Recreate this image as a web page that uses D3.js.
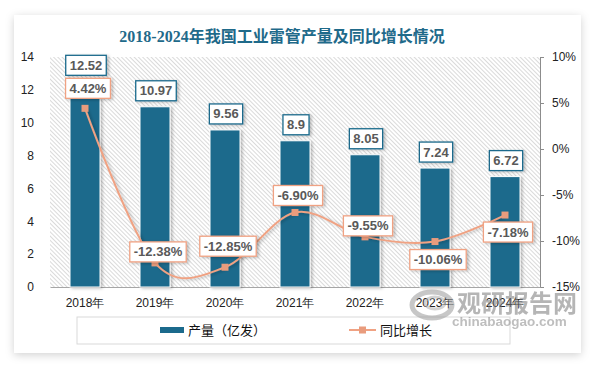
<!DOCTYPE html>
<html><head><meta charset="utf-8">
<script src="https://cdn.jsdelivr.net/npm/d3@7/dist/d3.min.js"></script>
<style>
html,body{margin:0;padding:0;background:#fff;}
svg{display:block;font-family:"Noto Sans CJK SC","Liberation Sans",sans-serif;}
</style></head>
<body>
<svg id="chart" width="594" height="366"></svg>
<script>
// ---- data ----
const years = ["2018年","2019年","2020年","2021年","2022年","2023年","2024年"];
const output = [12.52, 10.97, 9.56, 8.9, 8.05, 7.24, 6.72];
const outputLabels = ["12.52","10.97","9.56","8.9","8.05","7.24","6.72"];
const growth = [4.42, -12.38, -12.85, -6.90, -9.55, -10.06, -7.18];
const growthLabels = ["4.42%","-12.38%","-12.85%","-6.90%","-9.55%","-10.06%","-7.18%"];
const leftTicks = [0, 2, 4, 6, 8, 10, 12, 14];
const rightTicks = [-15, -10, -5, 0, 5, 10];
const seriesNames = ["产量（亿发）", "同比增长"];
const titleText = "2018-2024年我国工业雷管产量及同比增长情况";

// ---- layout / style ----
const barColor = "#1b6a8c", lineColor = "#f0a283", markerColor = "#e99c7d";
const plot = {left: 50, right: 540, top: 57, bottom: 287};
const growthLabelNudge = [-20, -11, -21, -17, -11, 18, 17];

const svg = d3.select("#chart");
const defs = svg.append("defs");
const sh = defs.append("filter").attr("id","cardShadow").attr("x","-10%").attr("y","-10%").attr("width","120%").attr("height","125%");
sh.append("feDropShadow").attr("dx",0).attr("dy",2).attr("stdDeviation",4).attr("flood-color","#000").attr("flood-opacity",0.18);
const bs = defs.append("filter").attr("id","barShadow").attr("x","-30%").attr("y","-10%").attr("width","160%").attr("height","130%");
bs.append("feDropShadow").attr("dx",2).attr("dy",1).attr("stdDeviation",1.5).attr("flood-color","#000").attr("flood-opacity",0.25);
const pat = defs.append("pattern").attr("id","hatch").attr("patternUnits","userSpaceOnUse")
  .attr("width",3).attr("height",3).attr("patternTransform","rotate(-45)");
pat.append("rect").attr("width",3).attr("height",3).attr("fill","#fff");
pat.append("rect").attr("x",0).attr("y",0).attr("width",0.9).attr("height",3).attr("fill","#d6d6d6");

// card
svg.append("rect").attr("x",14).attr("y",15).attr("width",567).attr("height",338)
  .attr("fill","#fff").attr("filter","url(#cardShadow)");

// title
svg.append("text").attr("x",282).attr("y",42).attr("text-anchor","middle")
  .attr("font-size",16).attr("font-weight","bold").attr("fill","#1f6a8a")
  .attr("font-family","'Liberation Serif','Noto Sans CJK SC',serif")
  .text(titleText);

// scales
const x = d3.scaleBand().domain(years).range([plot.left, plot.right])
  .paddingInner(40/70).paddingOuter(20/70);
const yL = d3.scaleLinear().domain([0,14]).range([plot.bottom, plot.top]);
const yR = d3.scaleLinear().domain([-15,10]).range([plot.bottom, plot.top]);

// plot background hatch
svg.append("rect").attr("x",plot.left).attr("y",plot.top)
  .attr("width",plot.right-plot.left).attr("height",plot.bottom-plot.top)
  .attr("fill","url(#hatch)");

// axes
const gL = svg.append("g").attr("transform",`translate(${plot.left},0)`)
  .call(d3.axisLeft(yL).tickValues(leftTicks).tickSize(0).tickPadding(16));
gL.select(".domain").remove();
gL.selectAll("text").attr("font-size",12).attr("fill","#222");

const gR = svg.append("g").attr("transform",`translate(${plot.right},0)`)
  .call(d3.axisRight(yR).tickValues(rightTicks).tickSize(4).tickPadding(8).tickFormat(d=>d+"%"));
gR.select(".domain").attr("stroke","#8c8c8c");
gR.selectAll(".tick line").attr("stroke","#8c8c8c");
gR.selectAll("text").attr("font-size",12).attr("fill","#222");

const gB = svg.append("g").attr("transform",`translate(0,${plot.bottom})`)
  .call(d3.axisBottom(x).tickSize(0).tickPadding(11).tickSizeOuter(0));
gB.select(".domain").attr("stroke","#a6a6a6");
gB.selectAll("text").attr("font-size",12).attr("fill","#222");

// bars
svg.append("g").selectAll("rect").data(output).join("rect")
  .attr("x",(d,i)=>x(years[i])).attr("width",x.bandwidth())
  .attr("y",d=>yL(d)).attr("height",d=>plot.bottom-yL(d))
  .attr("fill",barColor).attr("stroke","#fff").attr("stroke-width",1)
  .attr("filter","url(#barShadow)");

// line
const cx = i => x(years[i]) + x.bandwidth()/2;
const line = d3.line().x((d,i)=>cx(i)).y(d=>yR(d)).curve(d3.curveCardinal.tension(0));
svg.append("path").datum(growth).attr("d",line).attr("fill","none")
  .attr("stroke",lineColor).attr("stroke-width",2).attr("filter","url(#barShadow)");
svg.append("g").selectAll("rect").data(growth).join("rect")
  .attr("x",(d,i)=>cx(i)-3.5).attr("y",d=>yR(d)-3.5).attr("width",7).attr("height",7)
  .attr("fill",markerColor);

// labels
function boxLabel(g, cxv, cyv, txt, border){
  const grp = g.append("g");
  const t = grp.append("text").attr("x",cxv).attr("y",cyv).attr("text-anchor","middle")
    .attr("dominant-baseline","central").attr("font-size",13).attr("font-weight","bold")
    .attr("fill","#595959").attr("font-family","'Liberation Sans',sans-serif").text(txt);
  const w = t.node().getComputedTextLength() + 8;
  grp.insert("rect","text").attr("x",cxv-w/2).attr("y",cyv-10).attr("width",w).attr("height",20)
    .attr("fill","#fff").attr("stroke",border).attr("stroke-width",1.3)
    .attr("filter","url(#barShadow)");
}
const lg = svg.append("g");
output.forEach((d,i)=>boxLabel(lg, cx(i)+1, yL(d)-16, outputLabels[i], barColor));
growth.forEach((d,i)=>boxLabel(lg, cx(i)+3, yR(d)+growthLabelNudge[i], growthLabels[i], lineColor));

// legend
const leg = svg.append("g");
leg.append("rect").attr("x",77).attr("y",317).attr("width",433).attr("height",27)
  .attr("fill","#fff").attr("stroke","#d9d9d9");
leg.append("rect").attr("x",160).attr("y",327).attr("width",24).attr("height",6).attr("fill",barColor);
leg.append("text").attr("x",188).attr("y",335).attr("font-size",13).attr("fill","#111").text(seriesNames[0]);
leg.append("line").attr("x1",349).attr("x2",376).attr("y1",330).attr("y2",330)
  .attr("stroke",lineColor).attr("stroke-width",2);
leg.append("rect").attr("x",359).attr("y",326.5).attr("width",7).attr("height",7).attr("fill",markerColor);
leg.append("text").attr("x",380).attr("y",335).attr("font-size",13).attr("fill","#111").text(seriesNames[1]);

// watermark
const wm = svg.append("g").attr("opacity",0.55);
wm.append("ellipse").attr("cx",432).attr("cy",305).attr("rx",20).attr("ry",13)
  .attr("fill","none").attr("stroke","#9a9a9a").attr("stroke-width",5);
wm.append("ellipse").attr("cx",435).attr("cy",303).attr("rx",10).attr("ry",6)
  .attr("fill","none").attr("stroke","#b0b0b0").attr("stroke-width",3);
wm.append("text").attr("x",457).attr("y",312).attr("font-size",24).attr("font-weight","bold")
  .attr("fill","#7a7a7a").text("观研报告网");
wm.append("text").attr("x",452).attr("y",326).attr("font-size",13.5).attr("font-weight","bold")
  .attr("fill","#8a8a8a").attr("font-family","'Liberation Sans',sans-serif").text("chinabaogao.com");
</script>
</body></html>
